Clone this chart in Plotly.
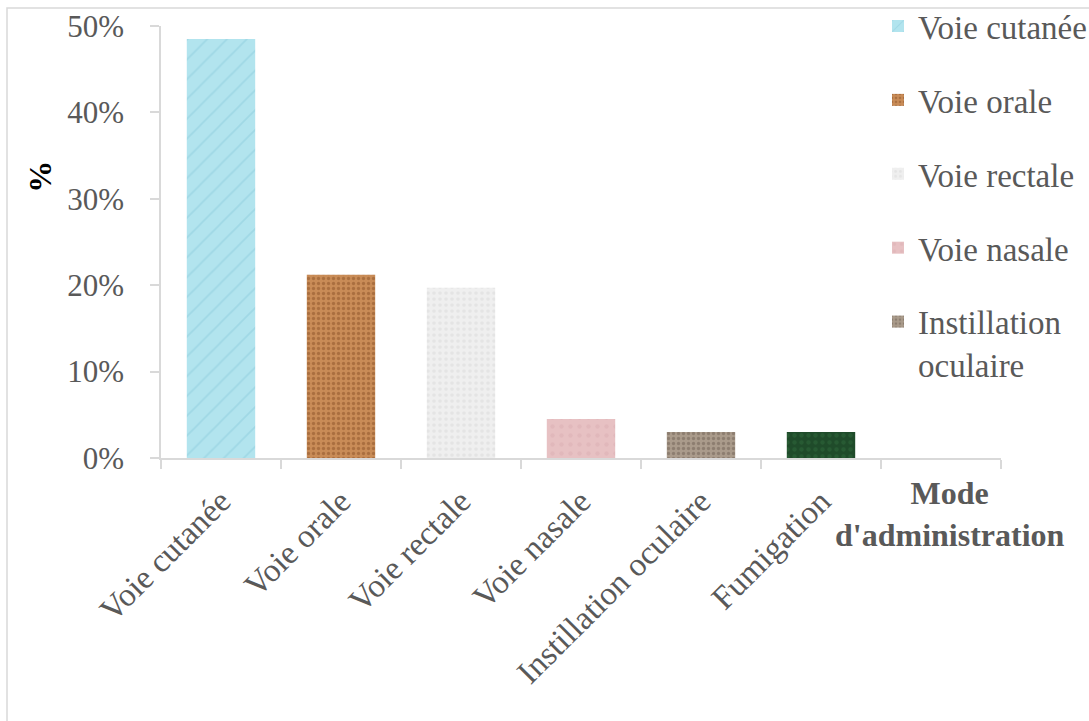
import plotly.graph_objects as go

# Mode d'administration des préparations (pourcentage des citations)
categories = ["Voie cutanée", "Voie orale", "Voie rectale", "Voie nasale",
              "Instillation oculaire", "Fumigation"]
legend_names = ["Voie cutanée", "Voie orale", "Voie rectale", "Voie nasale",
                "Instillation<br>oculaire", "Fumigation"]
percentages = [48.5, 21.2, 19.7, 4.5, 3.0, 3.0]
y_tick_values = [0, 10, 20, 30, 40, 50]
y_tick_labels = ["0%", "10%", "20%", "30%", "40%", "50%"]

# fill textures: (background, speckle colour, pattern shape, size, solidity)
textures = [
    ("#b2e4ee", "#8ccbdc", "/", 14, 0.12),
    ("#c98c57", "#8b5228", ".", 5, 0.35),
    ("#efefef", "#dadada", ".", 6, 0.3),
    ("#e7c1c3", "#dcb0b3", ".", 9, 0.2),
    ("#aa9b8b", "#6f6256", ".", 5, 0.35),
    ("#1f4b2a", "#2f6a3b", ".", 7, 0.3),
]

FONT = "Liberation Serif"
GREY_TEXT = "#595959"
AXIS_GREY = "#d9d9d9"

n_slots = len(categories) + 1          # one extra empty slot at the end of the axis
positions = list(range(len(categories)))
boundaries = [i - 0.5 for i in range(n_slots + 1)]
x_range = [-0.5, n_slots - 0.5]

fig = go.Figure()
for i, (name, leg, val) in enumerate(zip(categories, legend_names, percentages)):
    bg, fg, shape, size, solid = textures[i]
    fig.add_trace(go.Bar(
        x=[positions[i]], y=[val], name=leg, width=0.57,
        legendgroup=f"g{i}",
        showlegend=(i < 5),
        marker=dict(color=bg, line=dict(width=0),
                    pattern=dict(shape=shape, bgcolor=bg, fgcolor=fg,
                                 size=size, solidity=solid, fillmode="overlay")),
        hovertemplate=name + ": %{y:.1f}%<extra></extra>",
    ))

L, T = 161, 26
W, H = 1089, 721
plot_w = 1001 - L
plot_h = 458.5 - T


def px_x(px):
    return (px - L) / plot_w


def px_y(py):
    return (458.5 - py) / plot_h


fig.update_layout(
    width=W, height=H,
    margin=dict(l=L, r=W - 1001, t=T, b=H - 458.5, autoexpand=False),
    paper_bgcolor="white", plot_bgcolor="white",
    barmode="overlay",
    font=dict(family=FONT, color=GREY_TEXT, size=32),
    xaxis=dict(
        range=x_range, tickmode="array", tickvals=positions, ticktext=categories,
        tickangle=-45, ticks="", showgrid=False, zeroline=False,
        showline=True, linecolor=AXIS_GREY, linewidth=1.5,
        tickfont=dict(family=FONT, size=33, color=GREY_TEXT),
        ticklabelstandoff=9, automargin=False,
        minor=dict(tickmode="array", tickvals=boundaries, ticks="outside",
                   ticklen=9, tickcolor=AXIS_GREY, tickwidth=1.5, showgrid=False),
    ),
    xaxis2=dict(
        overlaying="x", anchor="y", range=x_range, tickmode="array",
        tickvals=boundaries, ticks="inside", ticklen=9, tickcolor=AXIS_GREY,
        tickwidth=1.5, showticklabels=False, showgrid=False, zeroline=False,
        showline=False,
    ),
    yaxis=dict(
        range=[0, 50], tickmode="array", tickvals=y_tick_values, ticktext=y_tick_labels,
        ticks="outside", ticklen=9, tickcolor=AXIS_GREY, tickwidth=1.5,
        showgrid=False, zeroline=False, showline=True, linecolor=AXIS_GREY, linewidth=1.5,
        tickfont=dict(family=FONT, size=31, color=GREY_TEXT),
        ticklabelstandoff=20, automargin=False,
    ),
    yaxis2=dict(
        overlaying="y", anchor="x", side="left", range=[0, 50], tickmode="array",
        tickvals=y_tick_values, ticks="inside", ticklen=9, tickcolor=AXIS_GREY,
        tickwidth=1.5, showticklabels=False, showgrid=False, zeroline=False,
        showline=False,
    ),
    legend=dict(
        x=px_x(878), y=px_y(-2), xanchor="left", yanchor="top",
        font=dict(family=FONT, size=33, color=GREY_TEXT),
        bgcolor="rgba(0,0,0,0)", tracegroupgap=28, valign="top",
        maxheight=700, itemclick=False, itemdoubleclick=False,
    ),
    showlegend=True,
    shapes=[dict(type="rect", xref="paper", yref="paper",
                 x0=px_x(7), x1=px_x(1120), y0=px_y(760), y1=px_y(8),
                 line=dict(color=AXIS_GREY, width=1.5), fillcolor="rgba(0,0,0,0)",
                 layer="below")],
    annotations=[
        dict(text="<b>%</b>", xref="paper", yref="paper", x=px_x(40), y=px_y(177),
             xanchor="center", yanchor="middle",
             textangle=-90, showarrow=False, font=dict(family=FONT, size=32, color="black")),
        dict(text="<b>Mode<br>d'administration</b>", xref="paper", yref="paper",
             x=px_x(950), y=px_y(515), xanchor="center", yanchor="middle",
             showarrow=False, align="center",
             font=dict(family=FONT, size=32, color=GREY_TEXT)),
    ],
)

fig.write_html("out.html")
